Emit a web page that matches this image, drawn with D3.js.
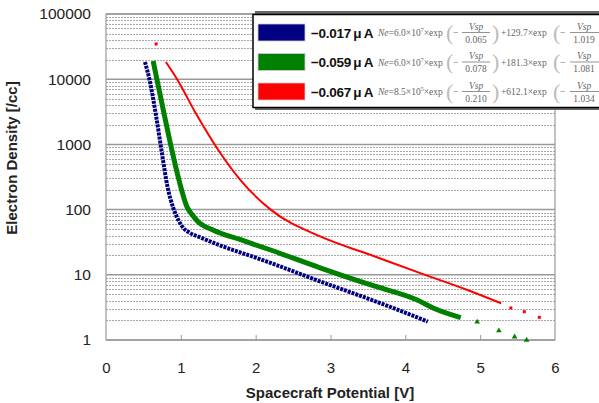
<!DOCTYPE html>
<html>
<head>
<meta charset="utf-8">
<script src="https://cdn.jsdelivr.net/npm/d3@7"></script>
<style>
  body { margin: 0; background: #fff; }
  svg { display: block; font-family: "Liberation Sans", Arial, sans-serif; }
</style>
</head>
<body>
<div id="chart"></div>
<script>
var width = 599, height = 403;
var plotLeft = 106, plotRight = 555, plotTop = 14, plotBottom = 340;

// values: spacecraft potential [V] and electron density [/cc]
var blueV  = [0.52, 0.58, 0.67, 0.75, 0.82, 0.90, 0.97, 1.03, 1.12, 1.26, 1.57, 2.02, 2.20, 2.87, 3.49, 3.94, 4.30];
var blueNe = [18400, 10000, 2700, 700, 230, 105, 68, 53, 44, 37.5, 27, 18, 15.2, 7.84, 4.36, 2.79, 1.91];

var greenV  = [0.63, 0.68, 0.78, 0.88, 0.98, 1.08, 1.15, 1.22, 1.43, 1.80, 2.20, 2.87, 3.54, 4.16, 4.38, 4.74];
var greenNe = [19000, 10000, 2800, 820, 270, 112, 84, 67, 48.6, 34.5, 24, 12.7, 6.98, 4.1, 3.06, 2.2];
var greenTailV  = [4.96, 5.25, 5.46, 5.62];
var greenTailNe = [1.89, 1.39, 1.12, 1.0];

var redV  = [0.80, 0.95, 1.20, 1.50, 1.80, 2.20, 2.87, 3.54, 4.21, 4.83, 5.28];
var redNe = [18400, 10000, 3000, 820, 280, 100, 38.4, 20.1, 10.5, 5.85, 3.66];
var redTailV  = [0.67, 5.41, 5.59, 5.79];
var redTailNe = [34700, 3.1, 2.72, 2.23];

var xTicks = [0, 1, 2, 3, 4, 5, 6];
var yTicks = [1, 10, 100, 1000, 10000, 100000];

var legendLabels = ["\u22120.017\u2009\u03bc\u2009A", "\u22120.059\u2009\u03bc\u2009A", "\u22120.067\u2009\u03bc\u2009A"];
var coefA = ["6.0", "6.0", "8.5"];
var powA = ["7", "7", "5"];
var tauA = ["0.065", "0.078", "0.210"];
var coefB = ["129.7", "181.3", "612.1"];
var tauB = ["1.019", "1.081", "1.034"];
var colors = ["#000080", "#008000", "#ff0000"];

var svg = d3.select("#chart").append("svg")
    .attr("width", width)
    .attr("height", height);

svg.append("rect").attr("width", width).attr("height", height).attr("fill", "#fff");

var x = d3.scaleLinear().domain([0, 6]).range([plotLeft, plotRight]);
var y = d3.scaleLog().domain([1, 100000]).range([plotBottom, plotTop]);

// gridlines
var minor = [];
for (var k = 0; k < 5; k++) {
    for (var m = 2; m <= 9; m++) minor.push(m * Math.pow(10, k));
}
svg.append("g").selectAll("line").data(minor).enter().append("line")
    .attr("x1", plotLeft).attr("x2", plotRight)
    .attr("y1", function (d) { return Math.round(y(d)) + 0.5; })
    .attr("y2", function (d) { return Math.round(y(d)) + 0.5; })
    .attr("stroke", "#a8a8a8")
    .attr("stroke-width", 1)
    .attr("stroke-dasharray", "2,1");

svg.append("g").selectAll("line").data(yTicks).enter().append("line")
    .attr("x1", plotLeft).attr("x2", plotRight)
    .attr("y1", function (d) { return y(d); })
    .attr("y2", function (d) { return y(d); })
    .attr("stroke", "#999")
    .attr("stroke-width", 1.5);

svg.append("rect")
    .attr("x", plotLeft).attr("y", plotTop)
    .attr("width", plotRight - plotLeft).attr("height", plotBottom - plotTop)
    .attr("fill", "none").attr("stroke", "#999").attr("stroke-width", 1.2);

// axes
var xAxis = svg.append("g")
    .attr("transform", "translate(0," + plotBottom + ")")
    .call(d3.axisBottom(x).tickValues(xTicks).tickFormat(d3.format("d"))
        .tickSizeInner(-5).tickSizeOuter(0).tickPadding(22));
xAxis.select(".domain").remove();
xAxis.selectAll("line").attr("stroke", "#999");
xAxis.selectAll("text").attr("font-size", 15).attr("fill", "#222")
    .attr("font-family", "Liberation Sans, Arial, sans-serif");
xAxis.selectAll(".tick").filter(function (d) { return d == 0 || d == 6; }).select("line").remove();

var yAxis = svg.append("g")
    .attr("transform", "translate(" + plotLeft + ",0)")
    .call(d3.axisLeft(y).tickValues(yTicks).tickFormat(d3.format("d")).tickSize(0).tickPadding(15));
yAxis.select(".domain").remove();
yAxis.selectAll("text").attr("font-size", 15.5).attr("fill", "#222")
    .attr("font-family", "Liberation Sans, Arial, sans-serif");

svg.append("text")
    .attr("x", 330).attr("y", 398)
    .attr("text-anchor", "middle")
    .attr("font-size", 15).attr("font-weight", "bold").attr("fill", "#222")
    .text("Spacecraft Potential [V]");

svg.append("text")
    .attr("transform", "translate(17,158) rotate(-90)")
    .attr("text-anchor", "middle")
    .attr("font-size", 15).attr("font-weight", "bold").attr("fill", "#222")
    .text("Electron Density [/cc]");

// series
var line = d3.line()
    .x(function (d) { return x(d[0]); })
    .y(function (d) { return y(d[1]); })
    .curve(d3.curveMonotoneX);

function pairs(vs, ns) { return vs.map(function (v, i) { return [v, ns[i]]; }); }

var g = svg.append("g");
g.append("path").datum(pairs(redV, redNe)).attr("d", line)
    .attr("fill", "none").attr("stroke", colors[2]).attr("stroke-width", 2);
g.append("path").datum(pairs(greenV, greenNe)).attr("d", line)
    .attr("fill", "none").attr("stroke", colors[1]).attr("stroke-width", 5);
g.append("path").datum(pairs(blueV, blueNe)).attr("d", line)
    .attr("fill", "none").attr("stroke", colors[0]).attr("stroke-width", 4)
    .attr("stroke-dasharray", "3,1");

g.selectAll(".gt").data(pairs(greenTailV, greenTailNe)).enter().append("path")
    .attr("class", "gt")
    .attr("transform", function (d) { return "translate(" + x(d[0]) + "," + y(d[1]) + ")"; })
    .attr("d", d3.symbol().type(d3.symbolTriangle).size(14))
    .attr("fill", colors[1]);

g.selectAll(".rt").data(pairs(redTailV, redTailNe)).enter().append("rect")
    .attr("class", "rt")
    .attr("x", function (d) { return x(d[0]) - 1.5; })
    .attr("y", function (d) { return y(d[1]) - 1.5; })
    .attr("width", 3).attr("height", 3)
    .attr("fill", colors[2]);

// legend
var lg = svg.append("g");
lg.append("rect").attr("x", 255).attr("y", 11).attr("width", 360).attr("height", 99)
    .attr("fill", "#666");
lg.append("rect").attr("x", 253).attr("y", 14.5).attr("width", 360).attr("height", 93)
    .attr("fill", "#fff").attr("stroke", "#000").attr("stroke-width", 1.5);

var rowY = [32.5, 62, 91.5];
var serif = "Liberation Serif, Times New Roman, serif";

legendLabels.forEach(function (lab, i) {
    var cy = rowY[i];
    var row = lg.append("g").attr("transform", "translate(0," + cy + ")");
    row.append("rect").attr("x", 258).attr("y", -8.5).attr("width", 47).attr("height", 17)
        .attr("fill", colors[i]).attr("stroke", "#ccc").attr("stroke-width", 0.8);
    row.append("text").attr("x", 311).attr("y", 5)
        .attr("font-size", 13.5).attr("font-weight", "bold").attr("fill", "#111")
        .attr("letter-spacing", -0.3)
        .text(lab);

    var f = row.append("g").attr("font-family", serif).attr("fill", "#666").attr("font-size", 9.5);
    var t = f.append("text").attr("x", 378).attr("y", 3.5);
    t.append("tspan").attr("font-style", "italic").text("Ne");
    t.append("tspan").text("=" + coefA[i] + "\u00d710");
    t.append("tspan").attr("dy", -4).attr("font-size", 6).text(powA[i]);
    t.append("tspan").attr("dy", 4).text("\u00d7exp");

    // first fraction
    f.append("text").attr("x", 446).attr("y", 7).attr("font-size", 22).attr("fill", "#bbb").text("(");
    f.append("text").attr("x", 453).attr("y", 3.5).text("\u2212");
    f.append("line").attr("x1", 462).attr("x2", 490).attr("y1", 0).attr("y2", 0).attr("stroke", "#777").attr("stroke-width", 0.8);
    f.append("text").attr("x", 476).attr("y", -3).attr("text-anchor", "middle").attr("font-style", "italic").text("Vsp");
    f.append("text").attr("x", 476).attr("y", 10).attr("text-anchor", "middle").text(tauA[i]);
    f.append("text").attr("x", 492).attr("y", 7).attr("font-size", 22).attr("fill", "#bbb").text(")");

    f.append("text").attr("x", 501).attr("y", 3.5).text("+" + coefB[i] + "\u00d7exp");
    f.append("text").attr("x", 553).attr("y", 7).attr("font-size", 22).attr("fill", "#bbb").text("(");
    f.append("text").attr("x", 560).attr("y", 3.5).text("\u2212");
    f.append("line").attr("x1", 570).attr("x2", 605).attr("y1", 0).attr("y2", 0).attr("stroke", "#777").attr("stroke-width", 0.8);
    f.append("text").attr("x", 584).attr("y", -3).attr("text-anchor", "middle").attr("font-style", "italic").text("Vsp");
    f.append("text").attr("x", 584).attr("y", 10).attr("text-anchor", "middle").text(tauB[i]);
});
</script>
</body>
</html>
